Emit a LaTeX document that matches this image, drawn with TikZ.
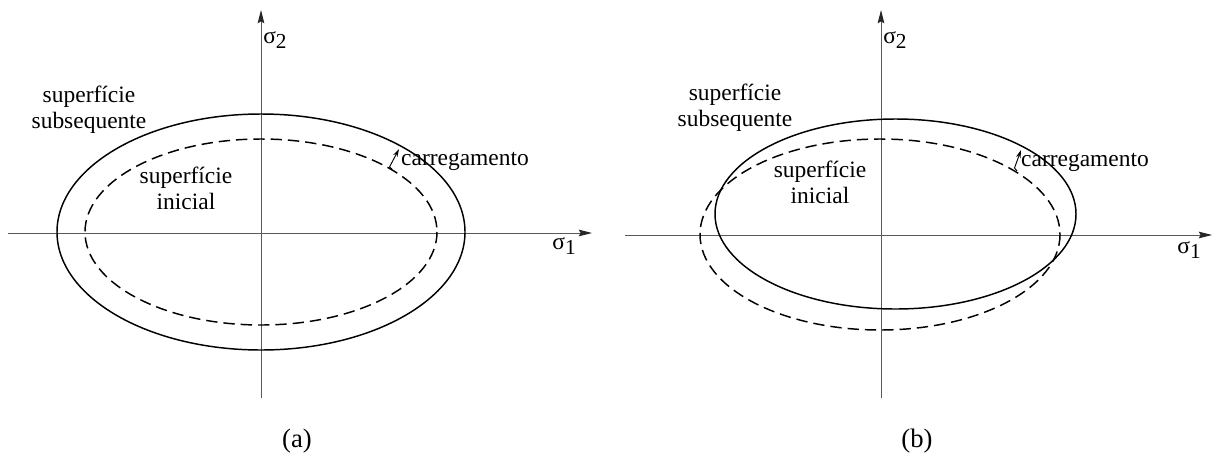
\documentclass[tikz,border=0pt]{standalone}
\usepackage{fontspec}
\setmainfont{Liberation Serif}
\usetikzlibrary{arrows.meta}
\newcommand{\lbl}[2]{σ\raisebox{-0.5ex}{\fontsize{16}{16}\selectfont #2}}
\begin{document}
\begin{tikzpicture}[x=0.75pt,y=-0.75pt,
  axis/.style={draw=black!65,line width=0.7pt,-{Stealth[length=10pt,width=5pt,inset=1.5pt,black!85]}},
  surf/.style={draw=black,line width=1.1pt},
  init/.style={draw=black,line width=1.1pt,dash pattern=on 8.5pt off 4.5pt},
  txt/.style={font=\fontsize{17.6}{19.5}\selectfont,align=center,inner sep=0pt},
  captxt/.style={font=\fontsize{20}{22}\selectfont,inner sep=0pt},
  load/.style={draw=black,line width=0.7pt,-{Stealth[length=6pt,width=3.5pt]}}]
\useasboundingbox (0,0) rectangle (1219,457);
% ---------- panel (a)
\coordinate (ax0) at (8,233);
\coordinate (ax1) at (592,233);
\coordinate (ay0) at (261,398);
\coordinate (ay1) at (261,10);
\draw[axis] (ax0) -- (ax1);
\draw[axis] (ay0) -- (ay1);
\draw[surf] (261,232) ellipse [x radius=204, y radius=118];
\draw[init] (261,232) ellipse [x radius=176, y radius=93];
\node[txt,anchor=west] (s2a) at (263,40) {\lbl{}{2}};
\node[txt] (s1a) at (564,246) {\lbl{}{1}};
\node[txt] (subsa) at (89,110) {superfície\\subsequente};
\node[txt] (inia) at (186,188) {superfície\\inicial};
\node[txt] (cara) at (465,161) {carregamento};
\coordinate (la0) at (392,169);
\coordinate (lak) at (389.5,167);
\coordinate (la1) at (399,149);
\draw[load] (la0) -- (lak) -- (la1);
\node[captxt] (capa) at (297,441) {(a)};
% ---------- panel (b)
\coordinate (bx0) at (625,235);
\coordinate (bx1) at (1212,235);
\coordinate (by0) at (881,398);
\coordinate (by1) at (881,10);
\draw[axis] (bx0) -- (bx1);
\draw[axis] (by0) -- (by1);
\draw[surf] (895.5,214) ellipse [x radius=180.5, y radius=95];
\draw[init] (880,234.5) ellipse [x radius=180, y radius=95.5];
\node[txt,anchor=west] (s2b) at (883,40) {\lbl{}{2}};
\node[txt] (s1b) at (1189,250) {\lbl{}{1}};
\node[txt] (subsb) at (735,108) {superfície\\subsequente};
\node[txt] (inib) at (820,182) {superfície\\inicial};
\node[txt] (carb) at (1085,162) {carregamento};
\coordinate (lb0) at (1017,171);
\coordinate (lbk) at (1014.5,168);
\coordinate (lb1) at (1021,150);
\draw[load] (lb0) -- (lbk) -- (lb1);
\node[captxt] (capb) at (917,441) {(b)};
\end{tikzpicture}
\end{document}
